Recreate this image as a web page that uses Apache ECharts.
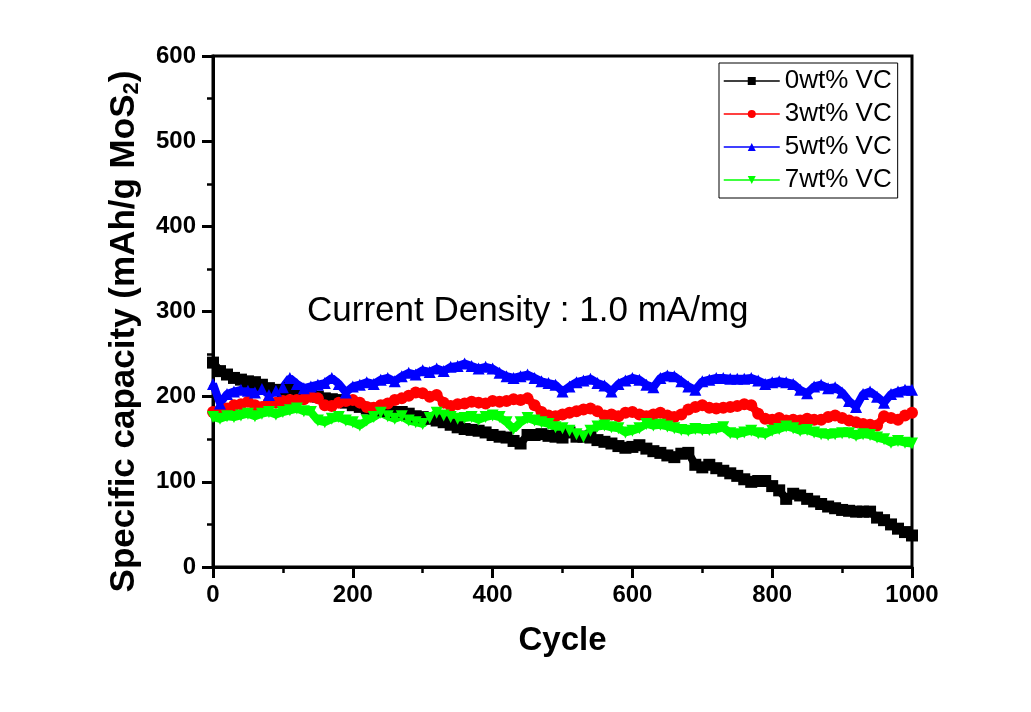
<!DOCTYPE html>
<html>
<head>
<meta charset="utf-8">
<script src="https://cdn.jsdelivr.net/npm/echarts@6/dist/echarts.min.js"></script>
<style>
html,body{margin:0;padding:0;background:#fff;}
#chart{width:1031px;height:712px;}
</style>
</head>
<body>
<div id="chart"></div>
<script>
// Cycles sampled every 10 cycles
const cycles = [];
for (let c = 0; c <= 1000; c += 10) cycles.push(c);

const vc0 = [240,230,226,222,220,218,217,214,210,208,206,210,204,203,201,200,198,197,196,193,
  190,188,186,185,184,183,182,182,180,177,176,174,172,170,167,164,162,161,160,158,
  155,153,152,148,145,155,155,156,154,153,152,158,153,153,152,149,147,145,142,140,
  141,143,139,136,134,131,129,133,134,120,117,120,116,113,110,107,103,100,101,101,
  95,90,80,86,84,80,77,74,71,69,67,66,65,65,65,58,55,50,45,41,37];

const vc3 = [182,184,186,190,191,194,190,188,194,193,195,196,196,197,200,198,190,189,193,195,
  196,193,188,187,190,192,196,198,201,205,204,200,202,193,189,191,192,194,193,192,
  195,194,195,197,196,198,190,182,178,177,179,181,183,185,186,183,178,179,177,181,
  182,179,177,179,181,178,176,179,185,188,190,187,186,187,188,189,191,190,180,174,
  173,175,172,173,172,174,173,173,176,178,175,172,170,168,167,166,177,175,173,178,181];

const vc5 = [215,192,203,206,208,207,205,209,202,207,211,222,215,210,212,214,216,222,215,205,
  212,214,217,215,220,222,218,224,228,226,231,229,233,230,235,236,239,236,233,235,
  233,228,224,222,224,226,222,218,216,214,206,212,217,219,221,216,213,206,215,219,
  222,220,214,211,222,225,224,218,212,208,218,220,222,222,221,221,221,222,219,215,
  217,218,217,215,208,204,212,214,210,211,205,195,188,203,206,200,193,203,206,208,208];

const vc7 = [176,174,177,176,178,180,177,180,182,179,182,184,186,183,182,172,170,174,176,172,
  170,166,172,176,181,177,174,177,172,170,168,175,181,178,176,174,175,176,173,176,
  178,176,170,162,170,175,172,170,168,164,163,160,156,153,160,165,166,164,163,158,
  160,163,168,166,167,165,163,161,160,162,161,161,162,164,157,156,158,160,157,156,
  160,162,165,163,160,161,158,156,155,156,157,157,154,156,155,152,150,146,148,146,145];

const seriesNames = ['0wt% VC','3wt% VC','5wt% VC','7wt% VC'];
const xTicks = [0,200,400,600,800,1000];
const yTicks = [0,100,200,300,400,500,600];

function pairs(arr){ return cycles.map((c,i)=>[c,arr[i]]); }

const chart = echarts.init(document.getElementById('chart'));
const font = 'Liberation Sans, Arial, sans-serif';
const downTri = 'path://M0,0 L10,0 L5,9 Z';

function mk(name, data, color, symbol){
  return {
    name, type:'line', data: pairs(data),
    symbol, symbolSize: 12,
    lineStyle:{color, width:8},
    itemStyle:{color},
    emphasis:{disabled:true},
    animation:false
  };
}

chart.setOption({
  animation:false,
  grid:{left:213, right:119, top:56, bottom:145, show:true, borderColor:'#000', borderWidth:3, backgroundColor:'transparent'},
  legend:{
    orient:'vertical', left:719, top:63,
    padding:[5,6,5,4],
    borderColor:'#000', borderWidth:1,
    itemWidth:56, itemHeight:10, itemGap:7,
    textStyle:{fontFamily:font, fontSize:26, lineHeight:26, color:'#000'},
    lineStyle:{width:1.5},
    itemStyle:{borderWidth:0},
    data: seriesNames.map(n => ({name:n, itemStyle:{}, lineStyle:{width:1.5}}))
  },
  xAxis:{
    type:'value', min:0, max:1000, interval:200,
    name:'Cycle', nameLocation:'middle', nameGap:57,
    nameTextStyle:{fontFamily:font, fontSize:33, fontWeight:'bold', color:'#000'},
    axisLine:{lineStyle:{color:'#000', width:3}},
    axisTick:{show:true, length:11, lineStyle:{width:3, color:'#000'}},
    minorTick:{show:true, splitNumber:2, length:6, lineStyle:{width:2.5, color:'#000'}},
    axisLabel:{fontFamily:font, fontSize:24, fontWeight:'bold', color:'#000', margin:16,
      formatter: v => xTicks.includes(v) ? String(v) : ''},
    splitLine:{show:false}
  },
  yAxis:{
    type:'value', min:0, max:600, interval:100,
    name:'{a|Specific capacity (mAh/g MoS}{s|2}{a|)}', nameLocation:'middle', nameGap:70,
    nameTextStyle:{padding:[0,40,0,0], rich:{
      a:{fontFamily:font, fontSize:35, fontWeight:'bold', color:'#000'},
      s:{fontFamily:font, fontSize:22, fontWeight:'bold', color:'#000', padding:[16,0,0,0]}
    }},
    axisLine:{lineStyle:{color:'#000', width:3}},
    axisTick:{show:true, length:11, lineStyle:{width:3, color:'#000'}},
    minorTick:{show:true, splitNumber:2, length:6, lineStyle:{width:2.5, color:'#000'}},
    axisLabel:{fontFamily:font, fontSize:24, fontWeight:'bold', color:'#000', margin:17,
      formatter: v => yTicks.includes(v) ? String(v) : ''},
    splitLine:{show:false}
  },
  graphic:[{
    type:'text', left:307, top:294,
    style:{text:'Current Density : 1.0 mA/mg', font:'35px ' + font, fill:'#000'}
  }],
  series:[
    mk(seriesNames[0], vc0, '#000000', 'rect'),
    mk(seriesNames[1], vc3, '#ff0000', 'circle'),
    mk(seriesNames[2], vc5, '#0000ff', 'triangle'),
    mk(seriesNames[3], vc7, '#00ff00', downTri)
  ]
});
</script>
</body>
</html>
